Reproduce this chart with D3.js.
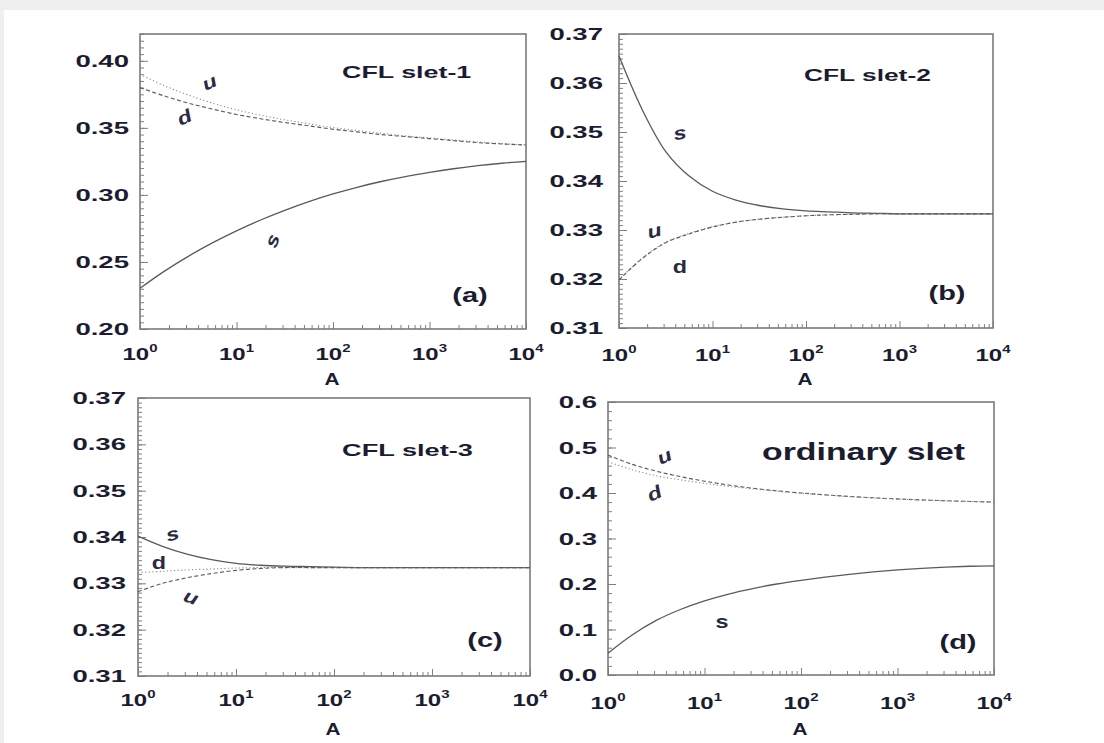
<!DOCTYPE html>
<html>
<head>
<meta charset="utf-8">
<script src="https://cdn.jsdelivr.net/npm/d3@7"></script>
<style>
  body { margin: 0; background: #efefef; }
  svg { display: block; }
  text { font-family: "Liberation Sans", Arial, sans-serif; fill: #1c1c30; }
</style>
</head>
<body>
<div id="chart"></div>
<script>
// A grid, quarter decades from 10^0 to 10^4
var A = [1, 1.778, 3.162, 5.623, 10, 17.78, 31.62, 56.23, 100, 177.8, 316.2, 562.3, 1000, 1778, 3162, 5623, 10000];

// panel (a) CFL slet-1
var uA = [0.390, 0.3815, 0.3745, 0.3685, 0.3635, 0.3595, 0.356, 0.353, 0.3502, 0.348, 0.346, 0.344, 0.3425, 0.341, 0.3395, 0.3383, 0.3373];
var dA = [0.380, 0.3738, 0.3685, 0.364, 0.360, 0.3568, 0.354, 0.3515, 0.349, 0.347, 0.345, 0.3435, 0.342, 0.3405, 0.339, 0.338, 0.3372];
var sA = [0.2304, 0.2430, 0.2542, 0.2642, 0.2732, 0.2813, 0.2885, 0.2950, 0.3007, 0.3057, 0.3100, 0.3137, 0.3168, 0.3195, 0.3218, 0.3236, 0.3250];

// panel (b) CFL slet-2
var sB = [0.3655, 0.3545, 0.3460, 0.3410, 0.3379, 0.3361, 0.3350, 0.3343, 0.3339, 0.3337, 0.3335, 0.3334, 0.3333, 0.3333, 0.3333, 0.3333, 0.3333];
var uB = [0.3199, 0.3243, 0.3275, 0.3293, 0.3307, 0.3316, 0.3322, 0.3326, 0.3329, 0.3331, 0.3332, 0.3333, 0.3333, 0.3333, 0.3333, 0.3333, 0.3333];
var dB = [0.3198, 0.3242, 0.3274, 0.3292, 0.3306, 0.3316, 0.3322, 0.3326, 0.3329, 0.3331, 0.3332, 0.3333, 0.3333, 0.3333, 0.3333, 0.3333, 0.3333];

// panel (c) CFL slet-3
var sC = [0.3402, 0.3380, 0.3363, 0.3351, 0.3343, 0.3339, 0.3337, 0.3336, 0.3335, 0.3334, 0.3334, 0.3334, 0.3334, 0.3334, 0.3334, 0.3334, 0.3334];
var dC = [0.3323, 0.3326, 0.3329, 0.3331, 0.3333, 0.3334, 0.3334, 0.3334, 0.3334, 0.3334, 0.3334, 0.3334, 0.3334, 0.3334, 0.3334, 0.3334, 0.3334];
var uC = [0.3282, 0.3300, 0.3312, 0.3321, 0.3328, 0.3332, 0.3334, 0.3334, 0.3334, 0.3334, 0.3334, 0.3334, 0.3334, 0.3334, 0.3334, 0.3334, 0.3334];

// panel (d) ordinary slet
var uD = [0.4835, 0.463, 0.448, 0.436, 0.426, 0.4175, 0.4105, 0.4048, 0.400, 0.396, 0.3925, 0.3895, 0.387, 0.3848, 0.383, 0.3814, 0.380];
var dD = [0.469, 0.451, 0.438, 0.429, 0.421, 0.4145, 0.409, 0.404, 0.3995, 0.3955, 0.392, 0.389, 0.3865, 0.3845, 0.3828, 0.3813, 0.380];
var sD = [0.048, 0.088, 0.120, 0.144, 0.163, 0.178, 0.190, 0.200, 0.208, 0.215, 0.221, 0.2265, 0.231, 0.2345, 0.237, 0.239, 0.240];

// tick labels
var xTicks = [1, 10, 100, 1000, 10000];
var xExps = ["0", "1", "2", "3", "4"];
var yTicksA = [0.20, 0.25, 0.30, 0.35, 0.40];
var yTicksBC = [0.31, 0.32, 0.33, 0.34, 0.35, 0.36, 0.37];
var yTicksD = [0.0, 0.1, 0.2, 0.3, 0.4, 0.5, 0.6];

var W = 1104, H = 743, SX = 1.62;

var svg = d3.select("#chart").append("svg")
    .attr("width", W)
    .attr("height", H);

// white sheet, light gray margin at top/left
svg.append("rect").attr("x", 4).attr("y", 10).attr("width", W - 4).attr("height", H - 10).attr("fill", "#fff");

var dashes = { dot: "1.2,2.4", dash: "4,2.5", solid: null };

function txt(g, x, y, s, size, anchor, opts) {
  opts = opts || {};
  var t = g.append("text")
      .attr("transform", "translate(" + x + "," + y + ")" + (opts.rot ? " rotate(" + opts.rot + ")" : "") + " scale(" + (opts.sx || SX) + ",1)")
      .attr("text-anchor", anchor)
      .style("font-size", size + "px")
      .style("font-weight", opts.weight || "bold");
  if (opts.italic) t.style("font-style", "italic");
  if (opts.fill) t.style("fill", opts.fill);
  t.text(s);
  return t;
}

function panel(p) {
  var g = svg.append("g");
  var x = d3.scaleLog().domain([1, 10000]).range([p.left, p.right]);
  var y = d3.scaleLinear().domain(p.domain).range([p.bottom, p.top]);

  // minor + major ticks, pointing inward
  var xMinor = [];
  xTicks.slice(0, 4).forEach(function(t) { for (var k = 2; k < 10; k++) xMinor.push(t * k); });
  g.append("g")
      .attr("transform", "translate(0," + p.bottom + ")")
      .call(d3.axisBottom(x).tickValues(xMinor).tickSize(-4).tickFormat(""));
  g.append("g")
      .attr("transform", "translate(0," + p.bottom + ")")
      .call(d3.axisBottom(x).tickValues(xTicks).tickSize(-7).tickFormat(""));

  var yMinor = d3.range(Math.round((p.domain[1] - p.domain[0]) / p.minor) + 1)
      .map(function(i) { return p.domain[0] + i * p.minor; });
  g.append("g")
      .attr("transform", "translate(" + p.left + ",0)")
      .call(d3.axisLeft(y).tickValues(yMinor).tickSize(-4).tickFormat(""));
  g.append("g")
      .attr("transform", "translate(" + p.left + ",0)")
      .call(d3.axisLeft(y).tickValues(p.yTicks).tickSize(-8).tickFormat(""));

  g.selectAll(".domain").remove();
  g.selectAll(".tick line").attr("stroke", "#808080").attr("stroke-width", 1);

  // frame
  g.append("rect")
      .attr("x", p.left).attr("y", p.top)
      .attr("width", p.right - p.left).attr("height", p.bottom - p.top)
      .attr("fill", "none").attr("stroke", "#7a7a7a").attr("stroke-width", 1.6);

  // y tick labels
  p.yTicks.forEach(function(v) {
    txt(g, p.left - p.yPad, y(v) + 6, d3.format(p.fmt)(v), 17, "end");
  });

  // x tick labels 10^n
  xTicks.forEach(function(v, i) {
    var t = g.append("text")
        .attr("transform", "translate(" + x(v) + "," + p.xBase + ") scale(1.5,1)")
        .attr("text-anchor", "middle")
        .style("font-size", "16px")
        .style("font-weight", "bold");
    t.append("tspan").text("10");
    t.append("tspan").attr("dy", -8).style("font-size", "10px").text(xExps[i]);
  });

  // axis title
  txt(g, (p.left + p.right) / 2 - 1, p.aBase, "A", 16, "middle", { sx: 1.3 });

  // curves
  var line = d3.line()
      .x(function(d, i) { return x(A[i]); })
      .y(function(d) { return y(d); })
      .curve(d3.curveCatmullRom.alpha(0.5));
  p.series.forEach(function(s) {
    g.append("path")
        .datum(s.v)
        .attr("fill", "none")
        .attr("stroke", s.style === "dot" ? "#8a8a8a" : "#5a5a5a")
        .attr("stroke-width", s.style === "solid" ? 1.3 : 1.1)
        .attr("stroke-dasharray", dashes[s.style])
        .attr("d", line);
  });

  // curve labels
  p.labels.forEach(function(l) {
    txt(g, l[1], l[2], l[0], 18, "middle", { italic: l[4] !== false, rot: l[3], sx: 1.3, fill: "#2a2a40" });
  });

  txt(g, p.titleX, p.titleY, p.title, p.titleSize, "start", { sx: p.titleSx });
  txt(g, p.tagX, p.tagY, p.tag, 20, "middle", { sx: 1.45 });
}

panel({
  left: 140, top: 34, right: 526, bottom: 329,
  domain: [0.20, 0.42], yTicks: yTicksA, minor: 0.005, fmt: ".2f", yPad: 11,
  xBase: 360, aBase: 385,
  series: [{ v: uA, style: "dot" }, { v: dA, style: "dash" }, { v: sA, style: "solid" }],
  labels: [["u", 212, 88, -25], ["d", 187, 123, -25], ["s", 278, 243, -70]],
  title: "CFL slet-1", titleX: 342, titleY: 78, titleSize: 17, titleSx: 1.58,
  tag: "(a)", tagX: 470, tagY: 302
});

panel({
  left: 619, top: 34, right: 993, bottom: 328,
  domain: [0.31, 0.37], yTicks: yTicksBC, minor: 0.001, fmt: ".2f", yPad: 16,
  xBase: 361, aBase: 385,
  series: [{ v: sB, style: "solid" }, { v: uB, style: "dot" }, { v: dB, style: "dash" }],
  labels: [["s", 681, 139, -10], ["u", 656, 237, -15], ["d", 680, 273, 0, false]],
  title: "CFL slet-2", titleX: 804, titleY: 81, titleSize: 17, titleSx: 1.55,
  tag: "(b)", tagX: 947, tagY: 300
});

panel({
  left: 138, top: 398, right: 530, bottom: 676,
  domain: [0.31, 0.37], yTicks: yTicksBC, minor: 0.001, fmt: ".2f", yPad: 12,
  xBase: 706, aBase: 735,
  series: [{ v: sC, style: "solid" }, { v: dC, style: "dot" }, { v: uC, style: "dash" }],
  labels: [["s", 174, 540, -15], ["d", 159, 569, 0, false], ["u", 189, 603, 20]],
  title: "CFL slet-3", titleX: 342, titleY: 456, titleSize: 17, titleSx: 1.6,
  tag: "(c)", tagX: 485, tagY: 647
});

panel({
  left: 608, top: 402, right: 994, bottom: 675,
  domain: [0.0, 0.6], yTicks: yTicksD, minor: 0.02, fmt: ".1f", yPad: 11,
  xBase: 709, aBase: 735,
  series: [{ v: uD, style: "dash" }, { v: dD, style: "dot" }, { v: sD, style: "solid" }],
  labels: [["u", 667, 462, -25], ["d", 657, 499, -25], ["s", 722, 628, 0, false]],
  title: "ordinary slet", titleX: 762, titleY: 460, titleSize: 24, titleSx: 1.41,
  tag: "(d)", tagX: 958, tagY: 649
});
</script>
</body>
</html>
